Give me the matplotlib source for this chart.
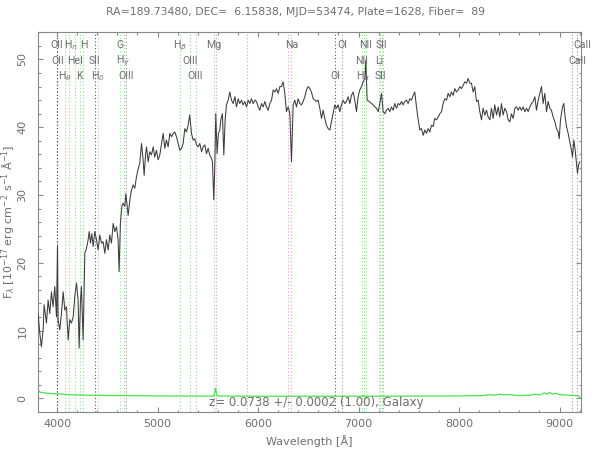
import matplotlib
matplotlib.use("Agg")
import matplotlib.pyplot as plt
import matplotlib.transforms as mtransforms
from matplotlib.ticker import MultipleLocator

# %% Data
z = 0.0738
title = "RA=189.73480, DEC=  6.15838, MJD=53474, Plate=1628, Fiber=  89"
z_text = "z= 0.0738 +/- 0.0002 (1.00), Galaxy"

wave = [
    3811, 3828, 3844, 3861, 3871, 3894, 3911, 3927, 3944, 3960, 3977, 3994,
    4004, 4010, 4027, 4043, 4060, 4077, 4093, 4110, 4126, 4143, 4160, 4176,
    4193, 4209, 4219, 4233, 4242, 4259, 4276, 4292, 4309, 4319, 4332, 4345,
    4359, 4375, 4392, 4408, 4425, 4442, 4458, 4475, 4491, 4508, 4524, 4541,
    4558, 4574, 4591, 4607, 4617, 4630, 4644, 4657, 4674, 4684, 4697, 4707,
    4724, 4740, 4757, 4773, 4790, 4807, 4823, 4840, 4856, 4866, 4880, 4890,
    4906, 4922, 4939, 4956, 4972, 4989, 5005, 5022, 5039, 5055, 5072, 5088,
    5105, 5122, 5138, 5155, 5171, 5188, 5204, 5221, 5238, 5254, 5271, 5287,
    5304, 5320, 5337, 5354, 5370, 5387, 5403, 5420, 5437, 5453, 5470, 5486,
    5503, 5519, 5536, 5546, 5553, 5559, 5569, 5579, 5592, 5605, 5619, 5629,
    5645, 5659, 5672, 5685, 5702, 5719, 5735, 5752, 5769, 5785, 5802, 5818,
    5835, 5851, 5868, 5885, 5901, 5918, 5934, 5951, 5968, 5984, 6001, 6017,
    6034, 6051, 6067, 6084, 6100, 6117, 6134, 6150, 6167, 6183, 6200, 6217,
    6233, 6249, 6266, 6282, 6299, 6316, 6332, 6349, 6365, 6382, 6398, 6415,
    6432, 6448, 6465, 6481, 6498, 6515, 6531, 6548, 6564, 6581, 6597, 6614,
    6631, 6647, 6664, 6680, 6697, 6714, 6730, 6747, 6763, 6780, 6796, 6813,
    6830, 6846, 6863, 6879, 6896, 6913, 6929, 6946, 6962, 6979, 6995, 7012,
    7029, 7045, 7062, 7072, 7085, 7105, 7128, 7145, 7161, 7178, 7195, 7211,
    7228, 7244, 7261, 7277, 7294, 7311, 7327, 7344, 7360, 7377, 7394, 7410,
    7427, 7443, 7460, 7477, 7493, 7510, 7526, 7543, 7559, 7576, 7593, 7609,
    7626, 7642, 7659, 7675, 7692, 7709, 7725, 7742, 7758, 7775, 7792, 7808,
    7825, 7841, 7858, 7875, 7891, 7908, 7924, 7941, 7957, 7974, 7991, 8007,
    8024, 8040, 8057, 8074, 8090, 8107, 8123, 8140, 8156, 8173, 8190, 8206,
    8223, 8239, 8256, 8273, 8289, 8306, 8322, 8339, 8355, 8372, 8389, 8405,
    8422, 8438, 8455, 8472, 8488, 8505, 8521, 8538, 8555, 8571, 8588, 8604,
    8621, 8637, 8654, 8671, 8687, 8704, 8720, 8737, 8754, 8770, 8787, 8820,
    8836, 8853, 8870, 8886, 8903, 8919, 8936, 8953, 8969, 8986, 8996, 9009,
    9029, 9042, 9055, 9069, 9085, 9102, 9118, 9128, 9142, 9155, 9168, 9178,
    9188, 9201,
]
flux = [
    12.5, 9.6, 7.6, 10.1, 13.8, 11.1, 14.5, 12.5, 15.7, 13.5, 16.5, 12.0,
    22.4, 11.6, 10.1, 12.5, 15.7, 13.0, 13.5, 8.6, 11.6, 11.1, 12.0, 15.0,
    17.0, 14.5, 7.4, 14.5, 16.5, 8.6, 21.4, 22.1, 23.4, 24.6, 22.9, 24.3,
    22.4, 24.6, 23.4, 21.9, 24.1, 22.9, 23.1, 21.4, 23.4, 21.9, 24.1, 22.9,
    25.8, 24.6, 25.3, 23.4, 18.7, 25.8, 28.3, 28.8, 28.3, 30.2, 28.3, 27.0,
    29.3, 30.7, 31.5, 31.0, 32.7, 33.9, 34.7, 37.6, 35.2, 32.9, 35.9, 37.1,
    34.9, 36.4, 35.9, 37.1, 35.6, 36.6, 35.2, 35.9, 37.6, 39.1, 36.9, 38.1,
    37.1, 39.1, 38.6, 39.1, 39.3, 38.6, 37.6, 36.6, 36.9, 37.6, 39.8, 39.3,
    40.3, 41.8, 39.1, 38.1, 38.3, 37.4, 37.1, 37.6, 36.4, 37.1, 37.4, 36.1,
    36.9, 35.9, 35.4, 34.9, 31.7, 29.3, 34.2, 42.0, 36.1, 39.1, 39.6, 41.1,
    42.0, 35.9, 41.1, 43.3, 44.0, 45.2, 44.0, 43.5, 44.5, 43.0, 44.2, 43.5,
    44.0, 43.3, 43.8, 43.0, 44.0, 43.5, 44.2, 43.5, 44.0, 43.8, 43.0, 42.5,
    43.5, 43.0, 43.8, 43.0, 42.5, 43.5, 44.0, 45.5, 45.2, 45.7, 45.0, 46.0,
    46.0, 46.7, 45.0, 42.3, 43.0, 42.0, 34.9, 43.3, 44.0, 43.0, 44.2, 43.5,
    43.3, 43.8, 44.5, 45.5, 46.0, 45.7, 45.2, 44.2, 44.0, 43.8, 44.0, 42.8,
    41.3, 42.5, 41.3, 40.3, 39.8, 39.6, 40.8, 42.0, 43.3, 42.8, 43.3, 42.3,
    43.3, 44.0, 43.5, 43.8, 44.5, 43.5, 44.7, 45.2, 44.0, 42.3, 44.5, 45.5,
    46.0, 46.7, 47.2, 49.9, 44.0, 43.8, 43.5, 43.3, 43.0, 42.8, 42.3, 43.5,
    45.0, 42.3, 42.0, 42.5, 42.8, 42.3, 43.0, 42.5, 43.5, 42.8, 43.5, 43.3,
    43.8, 43.3, 43.8, 44.0, 43.5, 44.2, 44.0, 44.7, 45.2, 43.0, 41.1, 39.6,
    39.8, 38.8, 39.6, 39.1, 39.8, 39.3, 40.3, 40.1, 41.3, 41.1, 41.5, 42.0,
    42.3, 43.5, 44.2, 44.0, 45.0, 44.5, 45.2, 44.7, 45.7, 45.2, 45.5, 46.0,
    45.7, 46.2, 46.7, 46.5, 47.2, 46.5, 46.5, 45.2, 46.0, 43.8, 44.0, 42.3,
    41.1, 42.8, 41.8, 42.5, 41.5, 41.1, 42.8, 41.3, 43.3, 41.8, 43.0, 41.5,
    43.5, 41.8, 42.8, 42.3, 41.1, 40.8, 42.0, 41.3, 42.8, 43.0, 42.5, 43.0,
    42.5, 43.0, 42.3, 42.8, 42.3, 43.0, 43.5, 43.8, 44.5, 42.5, 44.0, 46.0,
    43.5, 45.0, 42.3, 43.8, 42.8, 42.5, 41.5, 40.8, 39.8, 39.3, 38.3, 41.1,
    43.0, 43.5, 41.5, 40.1, 39.1, 37.8, 36.6, 35.6, 38.1, 36.6, 34.7, 33.2,
    34.4, 34.9,
]

# noise (error) spectrum
err_wave = [3810, 3830, 3900, 4000, 4100, 4300, 4600, 5000, 5500, 5560, 5577,
            5590, 6000, 6500, 7000, 7500, 8000, 8250, 8300, 8350, 8400, 8450,
            8500, 8550, 8600, 8700, 8750, 8800, 8850, 8880, 8900, 8930, 8950,
            9000, 9050, 9100, 9150, 9190, 9208]
err_flux = [1.2, 0.9, 0.75, 0.65, 0.55, 0.45, 0.4, 0.35, 0.32, 0.35, 1.5,
            0.35, 0.3, 0.3, 0.3, 0.32, 0.35, 0.4, 0.55, 0.45, 0.6, 0.5,
            0.55, 0.45, 0.4, 0.45, 0.6, 0.5, 0.8, 0.6, 0.9, 0.6, 0.75,
            0.55, 0.5, 0.45, 0.4, 0.35, 0.0]

# spectral lines (rest wavelength), label row and line colour group
line_names = ["OII", "OII", r"H$_\theta$", r"H$_\eta$", "HeI", "K", "H", "SII",
              r"H$_\delta$", "G", r"H$_\gamma$", "OIII", r"H$_\beta$", "OIII",
              "OIII", "Mg", "Na", "OI", "OI", "NII", r"H$_\alpha$", "NII", "Li",
              "SII", "SII", "CaII", "CaII", "CaII"]
line_rest = [3725.9, 3727.1, 3799.0, 3836.5, 3889.0, 3934.8, 3969.6, 4072.3,
             4102.9, 4305.6, 4341.7, 4364.4, 4862.7, 4960.3, 5008.2, 5176.7,
             5895.6, 6302.0, 6365.5, 6549.9, 6564.6, 6585.3, 6707.9, 6718.3,
             6732.7, 8500.4, 8544.4, 8664.5]
line_row = [1, 2, 3, 1, 2, 3, 1, 2, 3, 1, 2, 3, 1, 2, 3, 1, 1, 3, 1, 2, 3, 1,
            2, 3, 1, 0, 2, 1]
line_kind = ["dark", "dark", "em", "em", "em", "em", "em", "dark", "em", "em",
             "em", "gray", "em", "em", "em", "em", "em", "dark", "gray", "em",
             "em", "em", "em", "em", "em", "gray", "gray", "gray"]
sky_lines = [5577, 5893, 6300, 7246]

# %% Plot
txt = "#6e6e6e"
kind_color = {"dark": "#555555", "gray": "#9a9a9a", "em": "#8fe08f"}
plt.rcParams["font.family"] = ["DejaVu Sans"]
plt.rcParams["mathtext.fontset"] = "dejavusans"

W, H = 592, 453
fig = plt.figure(figsize=(W / 100, H / 100), dpi=100)
ax = fig.add_axes([38 / W, (H - 411.7) / H, 542.7 / W, 380 / H])

for lam in sky_lines:
    ax.axvline(lam, color="#f08ef0", lw=0.8, ls=(0, (1, 2)), zorder=1)
for lam, kind in zip(line_rest, line_kind):
    ax.axvline(lam * (1 + z), color=kind_color[kind], lw=0.8, ls=(0, (1, 2)),
               zorder=1)

ax.plot(err_wave, err_flux, color="#4fe04f", lw=0.9, zorder=2)
ax.plot(wave, flux, color="#3c3c3c", lw=0.75, zorder=3)

ax.set_xlim(3810, 9210)
ax.set_ylim(-1.98, 54.1)
ax.xaxis.set_major_locator(MultipleLocator(1000))
ax.xaxis.set_minor_locator(MultipleLocator(200))
ax.yaxis.set_major_locator(MultipleLocator(10))
ax.yaxis.set_minor_locator(MultipleLocator(2))
ax.tick_params(which="both", direction="in", top=True, right=True,
               color="#888888", labelcolor=txt, labelsize=8, width=0.8)
ax.tick_params(which="major", length=3.6, pad=5)
ax.tick_params(which="minor", length=1.8)
ax.tick_params(axis="y", pad=7.5)
for lab in ax.get_yticklabels():
    lab.set_rotation(90)
    lab.set_va("center")
for sp in ax.spines.values():
    sp.set_color("#888888")
    sp.set_linewidth(0.8)

# line labels in three rows near the top
row_y = {1: 0.956, 2: 0.916, 3: 0.876}
trans = mtransforms.blended_transform_factory(ax.transData, ax.transAxes)
labels = []
for name, lam, row in zip(line_names, line_rest, line_row):
    if row == 0:
        continue
    t = ax.text(lam * (1 + z), row_y[row], name, transform=trans, ha="center",
                va="baseline", fontsize=7.6, color=txt, clip_on=False,
                family="Roboto")
    labels.append(t)

ax.text(0.512, 0.023, z_text, transform=ax.transAxes, ha="center",
        va="center", fontsize=8.5, color=txt)

fig.text(0.5, (H - 12) / H, title, ha="center", va="center", fontsize=7.8,
         color=txt)
fig.text((38 + 271.4) / W, (H - 441) / H, "Wavelength [Å]", ha="center",
         va="center", fontsize=8, color=txt)
fig.text(9 / W, (H - 221.7) / H,
         r"F$_\lambda$ [10$^{-17}$ erg cm$^{-2}$ s$^{-1}$ Å$^{-1}$]",
         rotation=90, ha="center", va="center", fontsize=8, color=txt)

# keep labels inside the figure and clear of their left neighbour in a row
fig.canvas.draw()
renderer = fig.canvas.get_renderer()
last_right = {}
for t, row in zip(labels, [r for r in line_row if r]):
    bb = t.get_window_extent(renderer)
    shift = 0.0
    if bb.x1 > W - 0.5:
        shift = -(bb.x1 - W + 0.5)
    elif row in last_right and bb.x0 < last_right[row] + 0.5:
        shift = last_right[row] + 0.5 - bb.x0
    if shift:
        x_disp, y_disp = trans.transform(t.get_position())
        x_new = trans.inverted().transform((x_disp + shift, y_disp))
        t.set_position((x_new[0], t.get_position()[1]))
    last_right[row] = bb.x1 + shift

plt.savefig("out.png", dpi=100)
